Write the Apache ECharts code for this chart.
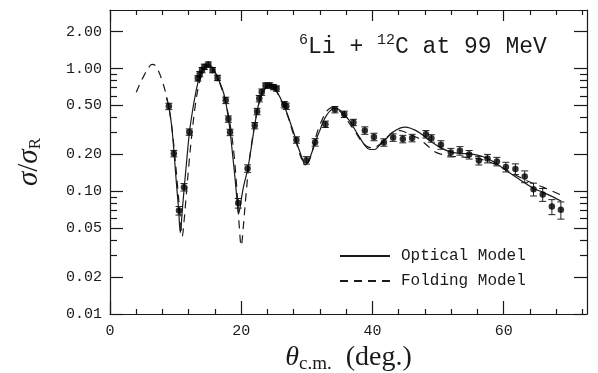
<!DOCTYPE html>
<html><head><meta charset="utf-8">
<script src="https://cdn.jsdelivr.net/npm/echarts@6/dist/echarts.min.js"></script>
<style>html,body{margin:0;padding:0;background:#fff}#c{width:598px;height:373px}</style>
</head><body><div id="c"></div>
<script>
// measured data (theta c.m. in degrees, sigma/sigma_R)
const angle = [8.97, 9.73, 10.52, 11.28, 12.08, 13.39, 13.68, 14.03, 14.38, 14.99, 15.63, 16.39, 17.64, 18.04, 18.30,
  19.55, 20.97, 22.06, 22.42, 22.75, 23.13, 23.71, 24.32, 24.90, 25.39, 26.56, 26.87, 28.41, 29.93, 31.26,
  32.83, 34.28, 35.71, 37.10, 38.84, 40.23, 41.74, 43.15, 44.63, 46.05, 48.15, 48.98, 50.44, 51.95, 53.33,
  54.74, 56.22, 57.53, 58.97, 60.34, 61.79, 63.21, 64.55, 65.95, 67.35, 68.72];
const ratio = [0.492, 0.203, 0.0696, 0.108, 0.304, 0.832, 0.902, 0.972, 1.034, 1.078, 0.972, 0.839, 0.551, 0.388, 0.302,
  0.0801, 0.1535, 0.343, 0.447, 0.569, 0.643, 0.727, 0.729, 0.706, 0.687, 0.508, 0.494, 0.262, 0.179, 0.251,
  0.352, 0.463, 0.4245, 0.364, 0.313, 0.2775, 0.2503, 0.2745, 0.2668, 0.272, 0.292, 0.270, 0.239, 0.207, 0.214,
  0.199, 0.178, 0.185, 0.175, 0.158, 0.152, 0.132, 0.104, 0.094, 0.075, 0.0706];
// relative errors in percent
const errPct = [6, 6, 8, 7, 6, 5, 5, 5, 5, 5, 5, 5, 6, 6, 6,
  9, 7, 6, 6, 6, 6, 5, 5, 5, 5, 6, 6, 6, 7, 7,
  6, 6, 6, 6, 7, 7, 7, 7, 7, 7, 7, 7, 8, 8, 8,
  8, 8, 8, 8, 9, 10, 11, 12, 12, 14, 16];

// Optical Model (solid)
const optAngle = [8.6, 9.0, 9.4, 9.75, 10.1, 10.45, 10.72, 11.0, 11.3, 11.7, 12.1, 12.6, 13.1, 13.6, 14.1, 14.6, 15.0, 15.5,
  16.0, 16.5, 17.0, 17.5, 18.0, 18.3, 18.6, 18.9, 19.2, 19.4, 19.6, 19.85, 20.1, 20.4, 21.0, 21.6, 22.0, 22.6, 23.2,
  23.8, 24.4, 25.0, 25.5, 26.0, 26.5, 27.0, 27.5, 28.0, 28.5, 29.0, 29.4, 29.75, 30.1, 30.5, 31.0, 31.5, 32.0, 32.5,
  33.0, 33.5, 34.0, 34.5, 35.0, 35.5, 36.0, 36.6, 37.3, 38.1, 38.9, 39.6, 40.3, 41.0, 42.2, 43.2, 44.2, 45.0, 45.7,
  46.5, 47.3, 48.0, 48.8, 50.3, 51.8, 53.3, 55.4, 56.9, 58.4, 60.5, 62.2, 64.5, 66.0, 67.5, 68.8];
const optRatio = [0.58, 0.48, 0.34, 0.21, 0.12, 0.072, 0.046, 0.068, 0.105, 0.18, 0.30, 0.46, 0.65, 0.84, 0.97, 1.05, 1.07, 1.03,
  0.93, 0.82, 0.71, 0.58, 0.41, 0.31, 0.22, 0.155, 0.105, 0.08, 0.066, 0.075, 0.092, 0.112, 0.153, 0.24, 0.33, 0.50, 0.63,
  0.71, 0.73, 0.70, 0.64, 0.57, 0.50, 0.43, 0.36, 0.30, 0.245, 0.205, 0.178, 0.164, 0.17, 0.19, 0.225, 0.27, 0.315, 0.37,
  0.415, 0.45, 0.47, 0.475, 0.46, 0.435, 0.405, 0.37, 0.32, 0.272, 0.235, 0.219, 0.219, 0.235, 0.272, 0.305, 0.327, 0.333, 0.328,
  0.315, 0.297, 0.277, 0.257, 0.228, 0.21, 0.204, 0.2, 0.191, 0.175, 0.146, 0.127, 0.106, 0.098, 0.09, 0.083];

// Folding Model (dashed)
const foldAngle = [4.0, 4.6, 5.2, 5.8, 6.4, 6.9, 7.4, 7.9, 8.4, 8.9, 9.4, 9.9, 10.3, 10.7, 11.0, 11.3, 11.6, 12.0, 12.5, 13.0,
  13.5, 14.0, 14.5, 15.0, 15.5, 16.0, 16.5, 17.0, 17.5, 18.0, 18.5, 18.9, 19.3, 19.7, 20.0, 20.3, 20.7, 21.2, 21.7, 22.2,
  22.7, 23.2, 23.8, 24.3, 24.8, 25.3, 25.8, 26.3, 26.8, 27.3, 27.8, 28.3, 28.8, 29.3, 29.9, 30.4, 30.9, 31.4, 31.9, 32.4,
  32.9, 33.4, 33.9, 34.4, 35.0, 35.5, 36.0, 36.6, 37.3, 38.0, 38.8, 39.5, 40.1, 40.8, 41.7, 42.5, 43.2, 43.8, 44.5, 45.3,
  46.2, 47.3, 48.0, 48.8, 49.5, 50.3, 52.0, 54.0, 56.0, 58.0, 60.0, 62.0, 64.0, 66.0, 68.6];
const foldRatio = [0.64, 0.76, 0.88, 1.0, 1.08, 1.06, 0.95, 0.81, 0.66, 0.50, 0.34, 0.19, 0.11, 0.062, 0.043, 0.058, 0.09, 0.16, 0.30, 0.50,
  0.72, 0.90, 1.02, 1.06, 1.03, 0.94, 0.82, 0.69, 0.56, 0.43, 0.30, 0.20, 0.11, 0.052, 0.036, 0.05, 0.09, 0.17, 0.27, 0.39,
  0.52, 0.62, 0.70, 0.73, 0.71, 0.66, 0.59, 0.52, 0.45, 0.38, 0.31, 0.26, 0.21, 0.18, 0.168, 0.18, 0.22, 0.28, 0.34, 0.39,
  0.44, 0.47, 0.48, 0.47, 0.45, 0.42, 0.39, 0.35, 0.31, 0.27, 0.24, 0.228, 0.226, 0.235, 0.258, 0.285, 0.305, 0.314, 0.31, 0.298,
  0.283, 0.265, 0.245, 0.225, 0.21, 0.202, 0.193, 0.19, 0.185, 0.172, 0.153, 0.134, 0.119, 0.108, 0.094];

const xMajorTicks = [0, 20, 40, 60];
const xMinorTicks = [4, 8, 12, 16, 24, 28, 32, 36, 44, 48, 52, 56, 64, 68, 72];
const yMajorTicks = [0.01, 0.02, 0.05, 0.1, 0.2, 0.5, 1, 2];
const yMinorTicks = [0.03, 0.04, 0.06, 0.07, 0.08, 0.09, 0.3, 0.4, 0.6, 0.7, 0.8, 0.9];
const seriesNames = ['Optical Model', 'Folding Model'];
const titleText = ['6', 'Li + ', '12', 'C at 99 MeV'];

const INK = '#1a1a1a';
const MONO = 'Liberation Mono';
const SERIF = 'Liberation Serif';
const X_MIN = 0, X_MAX = 72.7, Y_MIN = 0.01, Y_MAX = 3;

function xAx(pos, ticks, len, labels, showLine, extra) {
  return Object.assign({
    type: 'value', position: pos, min: X_MIN, max: X_MAX,
    axisLine: { show: showLine, onZero: false, lineStyle: { color: INK, width: 1.2 } },
    axisTick: { show: true, inside: true, length: len, customValues: ticks, lineStyle: { color: INK, width: 1.2 } },
    axisLabel: labels ? { show: true, customValues: ticks, margin: 10, color: INK, fontFamily: MONO, fontSize: 15 } : { show: false },
    splitLine: { show: false }
  }, extra || {});
}
function yAx(pos, ticks, len, labels, showLine, extra) {
  return Object.assign({
    type: 'log', logBase: 10, position: pos, min: Y_MIN, max: Y_MAX,
    axisLine: { show: showLine, onZero: false, lineStyle: { color: INK, width: 1.2 } },
    axisTick: { show: true, inside: true, length: len, customValues: ticks, lineStyle: { color: INK, width: 1.2 } },
    axisLabel: labels ? { show: true, customValues: ticks, margin: 8, color: INK, fontFamily: MONO, fontSize: 15,
      formatter: v => Number(v).toFixed(2) } : { show: false },
    splitLine: { show: false }, minorTick: { show: false }
  }, extra || {});
}

const points = angle.map((a, i) => [a, ratio[i]]);
const bars = angle.map((a, i) => [a, ratio[i] * (1 - errPct[i] / 100), ratio[i] * (1 + errPct[i] / 100)]);

const chart = echarts.init(document.getElementById('c'), null, { renderer: 'canvas' });
chart.setOption({
  animation: false,
  backgroundColor: '#fff',
  grid: { left: 110, right: 11, top: 10, bottom: 59, containLabel: false, outerBoundsMode: 'none' },
  title: {
    text: '{sup|' + titleText[0] + '}{main|' + titleText[1] + '}{sup|' + titleText[2] + '}{main|' + titleText[3] + '}',
    left: 299, top: 33, padding: 0,
    textStyle: { fontWeight: 'normal', rich: {
      main: { fontFamily: MONO, fontSize: 23, color: INK, fontWeight: 'normal' },
      sup: { fontFamily: MONO, fontSize: 15, color: INK, fontWeight: 'normal', padding: [0, 0, 12, 0] }
    } }
  },
  legend: {
    data: seriesNames, orient: 'vertical', left: 339, top: 248, padding: 0,
    itemWidth: 50, itemHeight: 14, itemGap: 9,
    itemStyle: { color: 'rgba(0,0,0,0)', borderWidth: 0, opacity: 0 },
    textStyle: { fontFamily: MONO, fontSize: 16, color: INK, padding: [0, 0, 0, 6] }
  },
  xAxis: [
    xAx('bottom', xMajorTicks, 13, true, true, {
      name: '{th|θ}{sub|c.m.}{rm|(deg.)}', nameLocation: 'middle', nameGap: 27,
      nameTextStyle: { rich: {
        th: { fontFamily: SERIF, fontStyle: 'italic', fontSize: 28, color: INK },
        sub: { fontFamily: SERIF, fontSize: 19, color: INK, padding: [13, 0, 0, 0] },
        rm: { fontFamily: SERIF, fontSize: 28, color: INK, padding: [0, 0, 0, 14] }
      } }
    }),
    xAx('bottom', xMinorTicks, 5, false, false),
    xAx('top', xMajorTicks, 11, false, true),
    xAx('top', xMinorTicks, 5, false, false)
  ],
  yAxis: [
    yAx('left', yMajorTicks, 13, true, true, {
      name: '{s|σ}{sl|/}{s|σ}{sub|R}', nameLocation: 'middle', nameGap: 66, nameRotate: 90,
      nameTextStyle: { rich: {
        s: { fontFamily: SERIF, fontStyle: 'italic', fontSize: 29, color: INK },
        sl: { fontFamily: SERIF, fontSize: 29, color: INK },
        sub: { fontFamily: SERIF, fontSize: 17, color: INK, padding: [13, 0, 0, 0] }
      } }
    }),
    yAx('left', yMinorTicks, 7, false, false),
    yAx('right', yMajorTicks, 13, false, true),
    yAx('right', yMinorTicks, 7, false, false)
  ],
  series: [
    {
      name: seriesNames[0], type: 'line', xAxisIndex: 0, yAxisIndex: 0,
      data: optAngle.map((a, i) => [a, optRatio[i]]),
      symbol: 'none', smooth: 0.4, clip: true, color: INK,
      lineStyle: { color: INK, width: 1.2, type: 'solid' }, z: 2
    },
    {
      name: seriesNames[1], type: 'line', xAxisIndex: 0, yAxisIndex: 0,
      data: foldAngle.map((a, i) => [a, foldRatio[i]]),
      symbol: 'none', smooth: 0.4, clip: true, color: INK,
      lineStyle: { color: INK, width: 1.2, type: [8, 6] }, z: 2
    },
    {
      name: 'error', type: 'custom', xAxisIndex: 0, yAxisIndex: 0,
      data: bars, encode: { x: 0, y: [1, 2] }, z: 3,
      renderItem: function (params, api) {
        const x = api.value(0);
        const lo = api.coord([x, api.value(1)]);
        const hi = api.coord([x, api.value(2)]);
        const w = 3.5;
        const st = { stroke: '#222', lineWidth: 1 };
        return { type: 'group', children: [
          { type: 'line', shape: { x1: lo[0], y1: lo[1], x2: hi[0], y2: hi[1] }, style: st },
          { type: 'line', shape: { x1: lo[0] - w, y1: lo[1], x2: lo[0] + w, y2: lo[1] }, style: st },
          { type: 'line', shape: { x1: hi[0] - w, y1: hi[1], x2: hi[0] + w, y2: hi[1] }, style: st }
        ] };
      }
    },
    {
      name: 'data', type: 'scatter', xAxisIndex: 0, yAxisIndex: 0,
      data: points, symbol: 'circle', symbolSize: 6.5,
      itemStyle: { color: '#000' }, z: 4
    }
  ]
});
</script>
</body></html>
